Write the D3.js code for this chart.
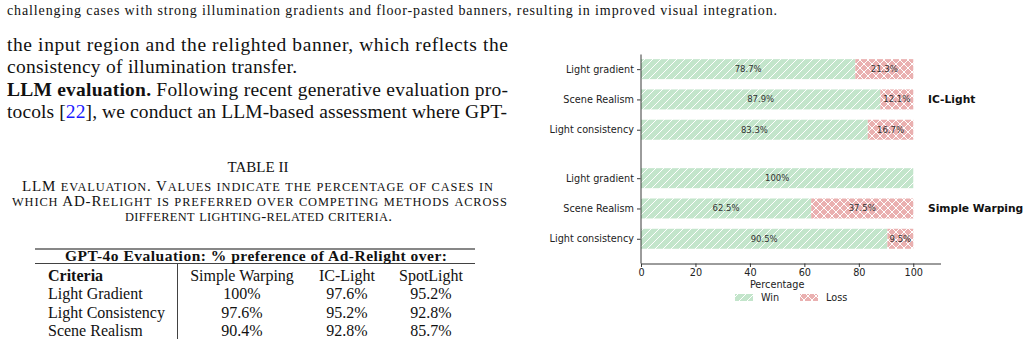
<!DOCTYPE html>
<html>
<head>
<meta charset="utf-8">
<script src="https://cdn.jsdelivr.net/npm/d3@7"></script>
<style>
  html, body { margin: 0; padding: 0; background: #fff; }
  svg { display: block; }
</style>
</head>
<body>
<div id="page"></div>
<script>
// chart data
const groups = ["IC-Light", "Simple Warping"];
const criteria = ["Light gradient", "Scene Realism", "Light consistency"];
const winValues = [[78.7, 87.9, 83.3], [100, 62.5, 90.5]];
const lossValues = [[21.3, 12.1, 16.7], [0, 37.5, 9.5]];
const xTicks = [0, 20, 40, 60, 80, 100];
const legendLabels = ["Win", "Loss"];

// table data
const tableTitle = "GPT-4o Evaluation: % preference of Ad-Relight over:";
const tableCols = ["Criteria", "Simple Warping", "IC-Light", "SpotLight"];
const tableRows = ["Light Gradient", "Light Consistency", "Scene Realism"];
const tableVals = [["100%", "97.6%", "95.2%"], ["97.6%", "95.2%", "92.8%"], ["90.4%", "92.8%", "85.7%"]];

const W = 1029, H = 339;
const svg = d3.select("#page").append("svg")
    .attr("width", W)
    .attr("height", H);

const serif = "'Liberation Serif', 'Times New Roman', serif";
const sans = "'DejaVu Sans', sans-serif";

// ---- left column: paper text ----
const txt = svg.append("g").style("font-family", serif).attr("fill", "#111");

txt.append("text")
    .attr("x", 7).attr("y", 15)
    .attr("textLength", 770)
    .style("font-size", "14px")
    .text("challenging cases with strong illumination gradients and floor-pasted banners, resulting in improved visual integration.");

txt.append("text")
    .attr("x", 7).attr("y", 51)
    .attr("textLength", 501).attr("lengthAdjust", "spacing")
    .style("font-size", "19.5px")
    .text("the input region and the relighted banner, which reflects the");

txt.append("text")
    .attr("x", 7).attr("y", 73)
    .attr("textLength", 290).attr("lengthAdjust", "spacing")
    .style("font-size", "19.5px")
    .text("consistency of illumination transfer.");

let l3 = txt.append("text")
    .attr("x", 7).attr("y", 96)
    .attr("textLength", 501).attr("lengthAdjust", "spacing")
    .style("font-size", "19.5px");
l3.append("tspan").style("font-weight", "bold").text("LLM evaluation.");
l3.append("tspan").text(" Following recent generative evaluation pro-");

let l4 = txt.append("text")
    .attr("x", 7).attr("y", 118)
    .attr("textLength", 500).attr("lengthAdjust", "spacing")
    .style("font-size", "19.5px");
l4.append("tspan").text("tocols [");
l4.append("tspan").attr("fill", "#1a1aff").text("22");
l4.append("tspan").text("], we conduct an LLM-based assessment where GPT-");

// table caption
txt.append("text")
    .attr("x", 258).attr("y", 172)
    .attr("text-anchor", "middle")
    .style("font-size", "15px")
    .text("TABLE II");

// hand-made small caps: lowercase letters become smaller capitals
function smallCaps(el, str, big, small) {
    let runs = [];
    for (const ch of str) {
        let low = ch >= "a" && ch <= "z";
        if (runs.length && runs[runs.length - 1].low == low) runs[runs.length - 1].s += ch;
        else runs.push({ low: low, s: ch });
    }
    runs.forEach(r => {
        el.append("tspan")
            .style("font-size", (r.low ? small : big) + "px")
            .text(r.low ? r.s.toUpperCase() : r.s);
    });
}

const capLines = [
    ["LLM evaluation. Values indicate the percentage of cases in", 22, 471, 191],
    ["which AD-Relight is preferred over competing methods across", 12, 495, 206],
    ["different lighting-related criteria.", 125, 267, 221]
];
capLines.forEach(c => {
    let t = txt.append("text")
        .attr("x", c[1]).attr("y", c[3])
        .attr("textLength", c[2]).attr("lengthAdjust", "spacing");
    smallCaps(t, c[0], 15, 12.4);
});

// table
const tbl = svg.append("g").style("font-family", serif).attr("fill", "#111");
tbl.append("line").attr("x1", 35).attr("x2", 475).attr("y1", 249).attr("y2", 249)
    .attr("stroke", "#111").attr("stroke-width", 1.2);
tbl.append("line").attr("x1", 35).attr("x2", 475).attr("y1", 263.5).attr("y2", 263.5)
    .attr("stroke", "#111").attr("stroke-width", 0.8);
tbl.append("line").attr("x1", 177.5).attr("x2", 177.5).attr("y1", 264).attr("y2", 339)
    .attr("stroke", "#111").attr("stroke-width", 0.8);

tbl.append("text")
    .attr("x", 65).attr("y", 261)
    .attr("textLength", 382).attr("lengthAdjust", "spacing")
    .style("font-size", "15.5px").style("font-weight", "bold")
    .text(tableTitle);

const colX = [48, 242, 347, 431];
tableCols.forEach((c, i) => {
    tbl.append("text")
        .attr("x", colX[i]).attr("y", 281)
        .attr("text-anchor", i == 0 ? "start" : "middle")
        .style("font-size", "16px")
        .style("font-weight", i == 0 ? "bold" : "normal")
        .text(c);
});
tableRows.forEach((r, j) => {
    let y = 299 + j * 18.5;
    tbl.append("text").attr("x", colX[0]).attr("y", y).style("font-size", "16px").text(r);
    tableVals[j].forEach((v, i) => {
        tbl.append("text")
            .attr("x", colX[i + 1]).attr("y", y)
            .attr("text-anchor", "middle")
            .style("font-size", "16px")
            .text(v);
    });
});

// ---- right: stacked bar chart ----
const winColor = "#c3e5cb", lossColor = "#eab0b0";
const defs = svg.append("defs");

function hatch(id, color, cross) {
    let p = defs.append("pattern")
        .attr("id", id)
        .attr("patternUnits", "userSpaceOnUse")
        .attr("width", 8).attr("height", 8);
    p.append("rect").attr("width", 8).attr("height", 8).attr("fill", color);
    p.append("path")
        .attr("d", "M-2,2 L2,-2 M0,8 L8,0 M6,10 L10,6")
        .attr("stroke", "#fff").attr("stroke-width", 1);
    if (cross) {
        p.append("path")
            .attr("d", "M-2,6 L2,10 M0,0 L8,8 M6,-2 L10,2")
            .attr("stroke", "#fff").attr("stroke-width", 1);
    }
}
hatch("hWin", winColor, false);
hatch("hLoss", lossColor, true);

const gapUnits = 0.6;
const rowPos = (g, i) => g * (criteria.length + gapUnits) + i;

const x = d3.scaleLinear().domain([0, 110]).range([641, 940.5]);
const y = d3.scaleLinear().domain([-0.5, 6.4]).range([54, 263]);
const barH = y(0.33) - y(-0.33);

const chart = svg.append("g").style("font-family", sans);

let rows = [];
groups.forEach((g, gi) => {
    criteria.forEach((c, i) => {
        rows.push({ group: g, crit: c, pos: rowPos(gi, i), win: winValues[gi][i], loss: lossValues[gi][i] });
    });
});

chart.selectAll(".win").data(rows).enter().append("rect")
    .attr("x", x(0))
    .attr("y", d => y(d.pos) - barH / 2)
    .attr("width", d => x(d.win) - x(0))
    .attr("height", barH)
    .attr("fill", "url(#hWin)");

chart.selectAll(".loss").data(rows.filter(d => d.loss > 0)).enter().append("rect")
    .attr("x", d => x(d.win))
    .attr("y", d => y(d.pos) - barH / 2)
    .attr("width", d => x(d.win + d.loss) - x(d.win))
    .attr("height", barH)
    .attr("fill", "url(#hLoss)");

chart.selectAll(".winLbl").data(rows).enter().append("text")
    .attr("x", d => x(d.win / 2))
    .attr("y", d => y(d.pos))
    .attr("dy", "0.35em")
    .attr("text-anchor", "middle")
    .attr("fill", "#333")
    .style("font-size", "8.5px")
    .text(d => d.win + "%");

chart.selectAll(".lossLbl").data(rows.filter(d => d.loss > 0)).enter().append("text")
    .attr("x", d => x(d.win + d.loss / 2))
    .attr("y", d => y(d.pos))
    .attr("dy", "0.35em")
    .attr("text-anchor", "middle")
    .attr("fill", "#333")
    .style("font-size", "8.5px")
    .text(d => d.loss + "%");

// axes
const yAxis = d3.axisLeft(y)
    .tickValues(rows.map(d => d.pos))
    .tickFormat((d, i) => rows[i].crit)
    .tickSize(3.5).tickSizeOuter(0).tickPadding(3);
const ya = chart.append("g").attr("transform", "translate(640.5,0)").call(yAxis);

const xAxis = d3.axisBottom(x)
    .tickValues(xTicks)
    .tickSize(3.5).tickSizeOuter(0).tickPadding(2);
const xa = chart.append("g").attr("transform", "translate(0,263.5)").call(xAxis);

[ya, xa].forEach(a => {
    a.selectAll("text").style("font-family", sans).style("font-size", "9.7px").attr("fill", "#222");
    a.selectAll("line, path").attr("stroke", "#222").attr("stroke-width", 0.9);
});

chart.append("text")
    .attr("x", x(50)).attr("y", 288)
    .attr("text-anchor", "middle")
    .attr("fill", "#222")
    .style("font-size", "9.7px")
    .text("Percentage");

// group labels
groups.forEach((g, gi) => {
    chart.append("text")
        .attr("x", 928)
        .attr("y", y(rowPos(gi, 1)))
        .attr("dy", "0.35em")
        .attr("fill", "#111")
        .style("font-size", "10.7px")
        .style("font-weight", "bold")
        .text(g);
});

// legend
const legX = [735, 800];
legendLabels.forEach((l, i) => {
    chart.append("rect")
        .attr("x", legX[i]).attr("y", 294)
        .attr("width", 18).attr("height", 7)
        .attr("fill", i == 0 ? "url(#hWin)" : "url(#hLoss)");
    chart.append("text")
        .attr("x", legX[i] + 26).attr("y", 298)
        .attr("dy", "0.35em")
        .attr("fill", "#222")
        .style("font-size", "9.7px")
        .text(l);
});
</script>
</body>
</html>
